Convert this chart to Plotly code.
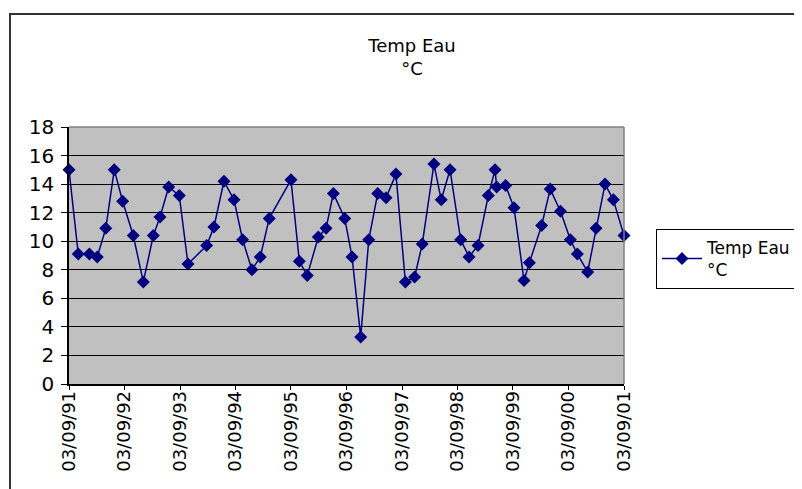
import plotly.graph_objects as go

dates = [
    "1991-09-03", "1991-11-03", "1992-01-15", "1992-03-07", "1992-05-02", "1992-06-27",
    "1992-08-21", "1992-10-30", "1993-01-04", "1993-03-11", "1993-04-24", "1993-06-20",
    "1993-08-29", "1993-10-25", "1994-02-25", "1994-04-14", "1994-06-19", "1994-08-24",
    "1994-10-20", "1994-12-20", "1995-02-13", "1995-04-13", "1995-09-03", "1995-10-28",
    "1995-12-19", "1996-03-01", "1996-04-21", "1996-06-08", "1996-08-22", "1996-10-09",
    "1996-12-05", "1997-01-27", "1997-03-27", "1997-05-21", "1997-07-25", "1997-09-25",
    "1997-11-25", "1998-01-14", "1998-04-01", "1998-05-19", "1998-07-16", "1998-09-24",
    "1998-11-18", "1999-01-16", "1999-03-25", "1999-05-08", "1999-05-19", "1999-07-17",
    "1999-09-10", "1999-11-15", "1999-12-20", "2000-03-10", "2000-05-05", "2000-07-12",
    "2000-09-15", "2000-10-31", "2001-01-07", "2001-03-03", "2001-05-01", "2001-06-25",
    "2001-09-03",
]
temps = [
    15.0, 9.1, 9.1, 8.9, 10.9, 15.0,
    12.8, 10.4, 7.15, 10.4, 11.7, 13.8,
    13.2, 8.4, 9.7, 11.0, 14.2, 12.9,
    10.1, 8.0, 8.9, 11.6, 14.3, 8.6,
    7.6, 10.3, 10.9, 13.35, 11.6, 8.9,
    3.3, 10.1, 13.35, 13.05, 14.7, 7.15,
    7.5, 9.8, 15.4, 12.9, 15.0, 10.1,
    8.9, 9.7, 13.2, 15.0, 13.8, 13.9,
    12.35, 7.25, 8.5, 11.1, 13.65, 12.1,
    10.1, 9.1, 7.85, 10.9, 14.0, 12.9,
    10.4,
]
tick_dates = ["1991-09-03", "1992-09-03", "1993-09-03", "1994-09-03", "1995-09-03",
              "1996-09-03", "1997-09-03", "1998-09-03", "1999-09-03", "2000-09-03",
              "2001-09-03"]
tick_labels = ["03/09/91", "03/09/92", "03/09/93", "03/09/94", "03/09/95", "03/09/96",
               "03/09/97", "03/09/98", "03/09/99", "03/09/00", "03/09/01"]
series_name = "Temp Eau<br>°C"

OFF = 8  # page body margin
W, H = 802 - OFF, 489 - OFF
L, R, T, B = 69 - OFF, 624 - OFF, 127 - OFF, 384 - OFF

fig = go.Figure()
fig.add_trace(go.Scatter(
    x=dates, y=temps, mode="lines+markers", name=series_name,
    line=dict(color="#000080", width=1.5),
    marker=dict(symbol="diamond", size=10, color="#000080"),
    cliponaxis=False,
))

def px_x(p):
    return (p - OFF - L) / (R - L)

def px_y(p):
    return (B - (p - OFF)) / (B - T)

fig.update_layout(
    width=W, height=H,
    margin=dict(l=L, r=W - R, t=T, b=H - B, autoexpand=False),
    paper_bgcolor="white",
    plot_bgcolor="#C0C0C0",
    font=dict(family="DejaVu Sans", color="black", size=15),
    title=dict(text="Temp Eau<br>°C", x=(412 - OFF) / W, xanchor="center",
               y=1 - (52 - OFF) / H, yanchor="top", font=dict(size=18)),
    showlegend=True,
    legend=dict(xref="container", yref="container",
                x=(656 - OFF) / W, y=1 - (229 - OFF) / H,
                xanchor="left", yanchor="top",
                bordercolor="black", borderwidth=1, bgcolor="white",
                font=dict(size=17), itemwidth=40),
    xaxis=dict(
        type="date", range=["1991-09-03", "2001-09-03"],
        tickvals=tick_dates, ticktext=tick_labels, tickangle=-90,
        ticks="outside", ticklen=4, tickcolor="black",
        ticklabelstandoff=-6,
        showline=True, linecolor="black", linewidth=1.5,
        showgrid=False, zeroline=False,
        tickfont=dict(size=18),
    ),
    yaxis=dict(
        range=[0, 18], dtick=2, tick0=0,
        ticks="outside", ticklen=6, tickcolor="black",
        ticklabelstandoff=3,
        showline=True, linecolor="black", linewidth=1.5,
        showgrid=True, gridcolor="black", gridwidth=1,
        zeroline=False, tickfont=dict(size=20),
    ),
    shapes=[
        dict(type="line", xref="paper", yref="paper", x0=0, x1=1, y0=1, y1=1,
             line=dict(color="#808080", width=1.5)),
        dict(type="line", xref="paper", yref="paper", x0=1, x1=1, y0=0, y1=1,
             line=dict(color="#808080", width=1.5)),
        dict(type="rect", xref="paper", yref="paper",
             x0=px_x(10), x1=px_x(812), y0=px_y(499), y1=px_y(14),
             line=dict(color="#333333", width=2), layer="below"),
    ],
)

fig.write_html("out.html")
